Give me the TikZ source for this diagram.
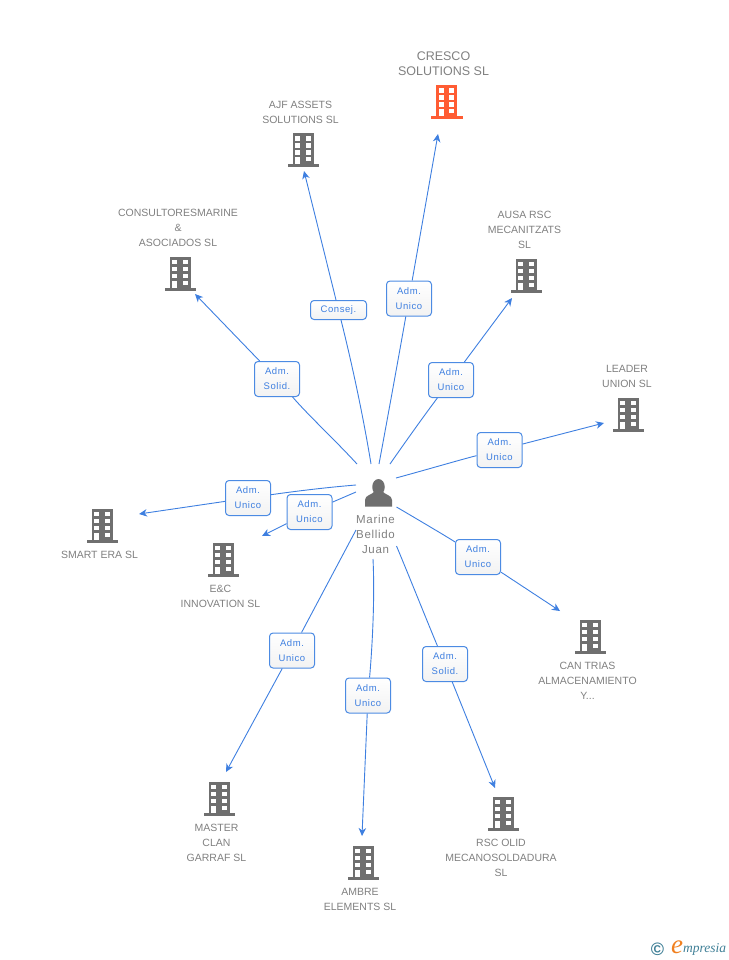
\documentclass[tikz,border=0pt]{standalone}
\usepackage{fontspec}
\setmainfont{Liberation Sans}
\newfontfamily\logofont{Liberation Serif}
\newfontfamily\spacedfont[LetterSpace=6]{Liberation Sans}
\usetikzlibrary{arrows.meta,shapes.geometric}
\definecolor{linkblue}{HTML}{3E7FE0}
\definecolor{boxblue}{HTML}{4C8BE3}
\definecolor{icongray}{HTML}{6F6F6F}
\definecolor{textgray}{HTML}{808080}
\definecolor{cresco}{HTML}{FF5C33}
\definecolor{logoteal}{HTML}{3F7F96}
\definecolor{logoorange}{HTML}{F08020}
\tikzset{
  link/.style={draw=linkblue, line width=0.9pt},
  arrowlink/.style={link, -{Stealth[length=8pt,width=7.5pt,inset=2.5pt]}},
  rolebox/.style={draw=boxblue, line width=1pt, rounded corners=3.5pt, top color=white, bottom color=black!5, font=\spacedfont\fontsize{9.5}{15}\selectfont, text=linkblue, align=center, minimum width=45pt, minimum height=35pt, inner sep=0pt},
  smallbox/.style={rolebox, minimum width=56pt, minimum height=19pt},
  namelabel/.style={font=\fontsize{10.5}{15}\selectfont, text=textgray, align=center, inner sep=0pt, yshift=-0.5pt},
  mainlabel/.style={namelabel, font=\fontsize{12.5}{15}\selectfont},
  personlabel/.style={namelabel, font=\spacedfont\fontsize{11.5}{15}\selectfont},
}
% building icon: name, x, y, colour
\newcommand{\bldg}[4]{
  \node[fill=#4, minimum width=21pt, minimum height=31pt, inner sep=0pt] (#1) at (#2,#3) {};
  \fill[#4] (#2-15.5,#3+15.5) rectangle (#2+16,#3+18.5);
  \foreach \wy in {-9.8,-2.8,4} {
    \fill[white] (#2-7.6,#3+\wy-2.2) rectangle (#2-2.6,#3+\wy+2.2);
    \fill[white] (#2+2.6,#3+\wy-2.2) rectangle (#2+7.6,#3+\wy+2.2);
  }
  \fill[white] (#2-7.6,#3+8.5) rectangle (#2-2.6,#3+15.5);
  \fill[white] (#2+2.6,#3+8.5) rectangle (#2+7.6,#3+13);
}
\begin{document}
\begin{tikzpicture}[x=1pt,y=-1pt]
\useasboundingbox (0,0) rectangle (728,960);
% role boxes
\node[rolebox] (b1) at (409,298.5) {Adm.\\Unico};
\node[smallbox] (b2) at (338.5,310) {Consej.};
\node[rolebox] (b3) at (277,379) {Adm.\\Solid.};
\node[rolebox] (b4) at (451,380) {Adm.\\Unico};
\node[rolebox] (b5) at (499.5,450) {Adm.\\Unico};
\node[rolebox] (b6) at (248,498) {Adm.\\Unico};
\node[rolebox] (b7) at (309.5,512) {Adm.\\Unico};
\node[rolebox] (b8) at (478,557) {Adm.\\Unico};
\node[rolebox] (b9) at (445,664) {Adm.\\Solid.};
\node[rolebox] (b10) at (368,695.5) {Adm.\\Unico};
\node[rolebox] (b11) at (292,650.5) {Adm.\\Unico};
% line ends
\coordinate (s1) at (379,464);
\coordinate (s2) at (371,464);
\coordinate (s3) at (357,464);
\coordinate (s4) at (390,464);
\coordinate (s5) at (396,478);
\coordinate (s6) at (356,485);
\coordinate (s7) at (356,492);
\coordinate (s8) at (396.5,507);
\coordinate (s9) at (396.5,546);
\coordinate (s10) at (373,559);
\coordinate (s11) at (356,530);
\coordinate (e1) at (438,134);
\coordinate (e2) at (304,171);
\coordinate (e3) at (195,294);
\coordinate (e4) at (512,298);
\coordinate (e5) at (604,423);
\coordinate (e6) at (139,514);
\coordinate (e7) at (262,536);
\coordinate (e8) at (560,611);
\coordinate (e9) at (495,788);
\coordinate (e10) at (362,836);
\coordinate (e11) at (226,772);
% connectors
\draw[link] (s1) .. controls (387,421) and (397,366) .. (b1);
\draw[arrowlink] (b1) -- (e1);
\draw[link] (s2) .. controls (364,421) and (353.5,370) .. (b2);
\draw[arrowlink] (b2) -- (e2);
\draw[link] (s3) .. controls (335,440) and (309,416) .. (b3);
\draw[arrowlink] (b3) -- (e3);
\draw[link] (s4) .. controls (406,441) and (426,413) .. (b4);
\draw[arrowlink] (b4) -- (e4);
\draw[link] (s5) .. controls (429,469) and (463,459) .. (b5);
\draw[arrowlink] (b5) -- (e5);
\draw[link] (s6) .. controls (319,488) and (283,493) .. (b6);
\draw[arrowlink] (b6) -- (e6);
\draw[link] (s7) -- (b7);
\draw[arrowlink] (b7) -- (e7);
\draw[link] (s8) .. controls (422,522) and (449,538) .. (b8);
\draw[arrowlink] (b8) -- (e8);
\draw[link] (s9) .. controls (411.5,582) and (427,621) .. (b9);
\draw[arrowlink] (b9) -- (e9);
\draw[link] (s10) .. controls (375,600) and (372,650) .. (b10);
\draw[arrowlink] (b10) -- (e10);
\draw[link] (s11) -- (b11);
\draw[arrowlink] (b11) -- (e11);
% buildings
\bldg{cresco}{446.5}{100.5}{cresco}
\bldg{ajf}{303}{148.5}{icongray}
\bldg{consult}{180}{272}{icongray}
\bldg{ausa}{526}{274}{icongray}
\bldg{leader}{628}{413}{icongray}
\bldg{smart}{102}{524}{icongray}
\bldg{ec}{223}{558}{icongray}
\bldg{cantrias}{590}{635}{icongray}
\bldg{rscolid}{503}{812}{icongray}
\bldg{ambre}{363}{861}{icongray}
\bldg{master}{219}{797}{icongray}
% person
\node[fill=icongray, ellipse, minimum width=12.5pt, minimum height=16pt, inner sep=0pt] (head) at (378.5,487) {};
\fill[icongray] (365,506.5) -- (365,500) .. controls (365,495) and (372,495) .. (375,491) -- (382,491) .. controls (385,495) and (392,495) .. (392,500) -- (392,506.5) -- cycle;
% labels
\node[personlabel] (lperson) at (375.5,533.5) {Marine\\Bellido\\Juan};
\node[mainlabel] (l1) at (443.5,63) {CRESCO\\SOLUTIONS SL};
\node[namelabel] (l2) at (300.5,111.5) {AJF ASSETS\\SOLUTIONS SL};
\node[namelabel] (l3) at (178,227.5) {CONSULTORESMARINE\\\&\\ASOCIADOS SL};
\node[namelabel] (l4) at (524.5,229) {AUSA RSC\\MECANITZATS\\SL};
\node[namelabel] (l5) at (627,375.5) {LEADER\\UNION SL};
\node[namelabel] (l6) at (99.5,554) {SMART ERA SL};
\node[namelabel] (l7) at (220.5,595.5) {E\&C\\INNOVATION SL};
\node[namelabel] (l8) at (587.5,680) {CAN TRIAS\\ALMACENAMIENTO\\Y...};
\node[namelabel] (l9) at (501,857) {RSC OLID\\MECANOSOLDADURA\\SL};
\node[namelabel] (l10) at (360,898.5) {AMBRE\\ELEMENTS SL};
\node[namelabel] (l11) at (216.5,842) {MASTER\\CLAN\\GARRAF SL};
% logo
\node[text=logoteal, font=\bfseries\fontsize{18}{18}\selectfont, inner sep=0pt] (logoc) at (657.5,949) {©};
\node[text=logoorange, font=\logofont\itshape\fontsize{27}{27}\selectfont, inner sep=0pt] (logoe) at (677,947.5) {e};
\node[text=logoteal, font=\logofont\itshape\fontsize{13.5}{13.5}\selectfont, inner sep=0pt, anchor=west] (logot) at (683,949) {mpresia};
\end{tikzpicture}
\end{document}
